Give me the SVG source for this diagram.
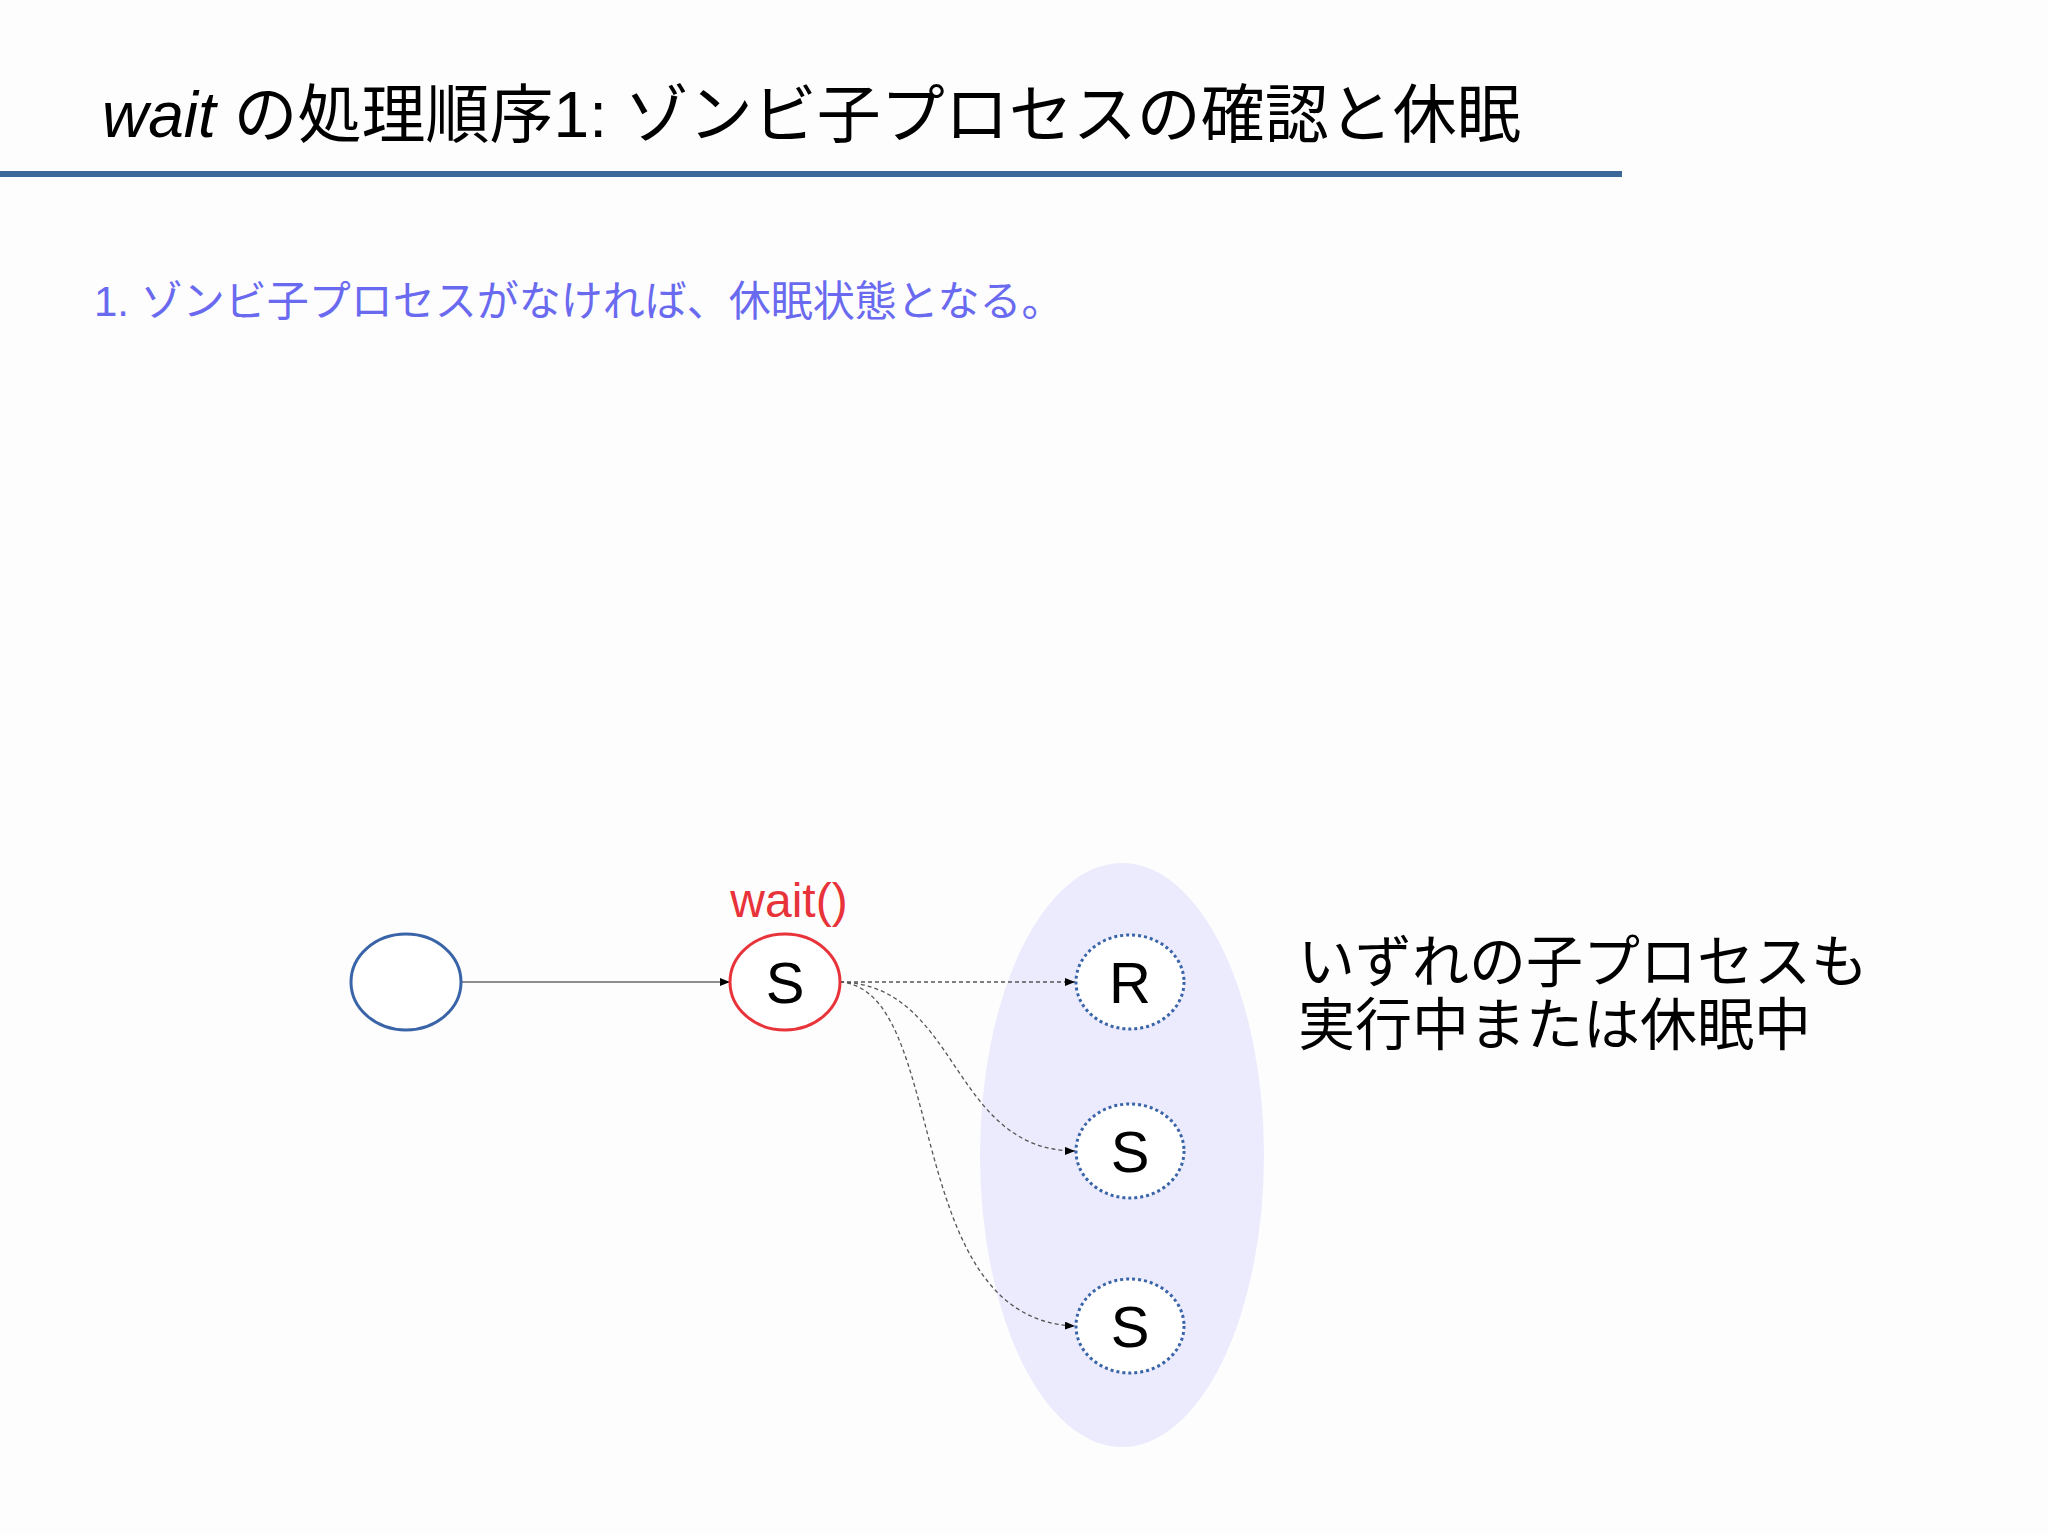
<svg xmlns="http://www.w3.org/2000/svg" width="2048" height="1535" viewBox="0 0 2048 1535">
<defs>
<style>
.t{font-family:"Liberation Sans","Noto Sans CJK JP",sans-serif}
.n{fill:#fff;stroke-width:3}
.d{fill:none;stroke:#555;stroke-width:1.3;stroke-dasharray:4 3}
.lbl{font-family:"Liberation Sans",sans-serif;font-size:58px;text-anchor:middle;fill:#000}
</style>
<marker id="a" markerWidth="10" markerHeight="8" refX="10" refY="4" orient="auto" markerUnits="userSpaceOnUse" viewBox="0 0 10 8"><path d="M0,0L10,4L0,8z" fill="#000"/></marker>
</defs>
<rect width="2048" height="1535" fill="#fdfdfd"/>
<text class="t" x="102" y="137" font-size="64" fill="#000"><tspan font-style="italic">wait</tspan> の処理順序1: ゾンビ子プロセスの確認と休眠</text>
<rect x="0" y="171" width="1622" height="6" fill="#3a6898"/>
<text class="t" x="94" y="316" font-size="42" fill="#6a6af0">1. ゾンビ子プロセスがなければ、休眠状態となる。</text>
<ellipse id="group" cx="1122" cy="1155" rx="142" ry="292" fill="#ebebfd"/>
<g id="connectors">
<line x1="461" y1="982" x2="730" y2="982" stroke="#666" stroke-width="1.3" marker-end="url(#a)" style="stroke-width:1.3"/>
<path class="d" d="M840,982L1075,982" marker-end="url(#a)"/>
<path class="d" d="M840,982C960,985 950,1150 1075,1151" marker-end="url(#a)"/>
<path class="d" d="M840,982C950,990 900,1320 1075,1326" marker-end="url(#a)"/>
</g>
<g id="parent"><ellipse class="n" cx="406" cy="982" rx="55" ry="48" stroke="#3a64a8"/></g>
<g id="waiter"><ellipse class="n" cx="785" cy="982" rx="55" ry="48" stroke="#e8333a"/><text class="lbl" x="785" y="1003">S</text>
<text class="t" x="789" y="917" font-size="48" fill="#e8333a" text-anchor="middle">wait()</text></g>
<g id="childR"><ellipse class="n" cx="1130" cy="982" rx="54" ry="47" stroke="#3a64a8" stroke-dasharray="3 3"/><text class="lbl" x="1130" y="1003">R</text></g>
<g id="childS1"><ellipse class="n" cx="1130" cy="1151" rx="54" ry="47" stroke="#3a64a8" stroke-dasharray="3 3"/><text class="lbl" x="1130" y="1172">S</text></g>
<g id="childS2"><ellipse class="n" cx="1130" cy="1326" rx="54" ry="47" stroke="#3a64a8" stroke-dasharray="3 3"/><text class="lbl" x="1130" y="1347">S</text></g>
<text class="t" x="1298" y="982" font-size="57" fill="#000">いずれの子プロセスも</text>
<text class="t" x="1298" y="1045" font-size="57" fill="#000">実行中または休眠中</text>
</svg>
